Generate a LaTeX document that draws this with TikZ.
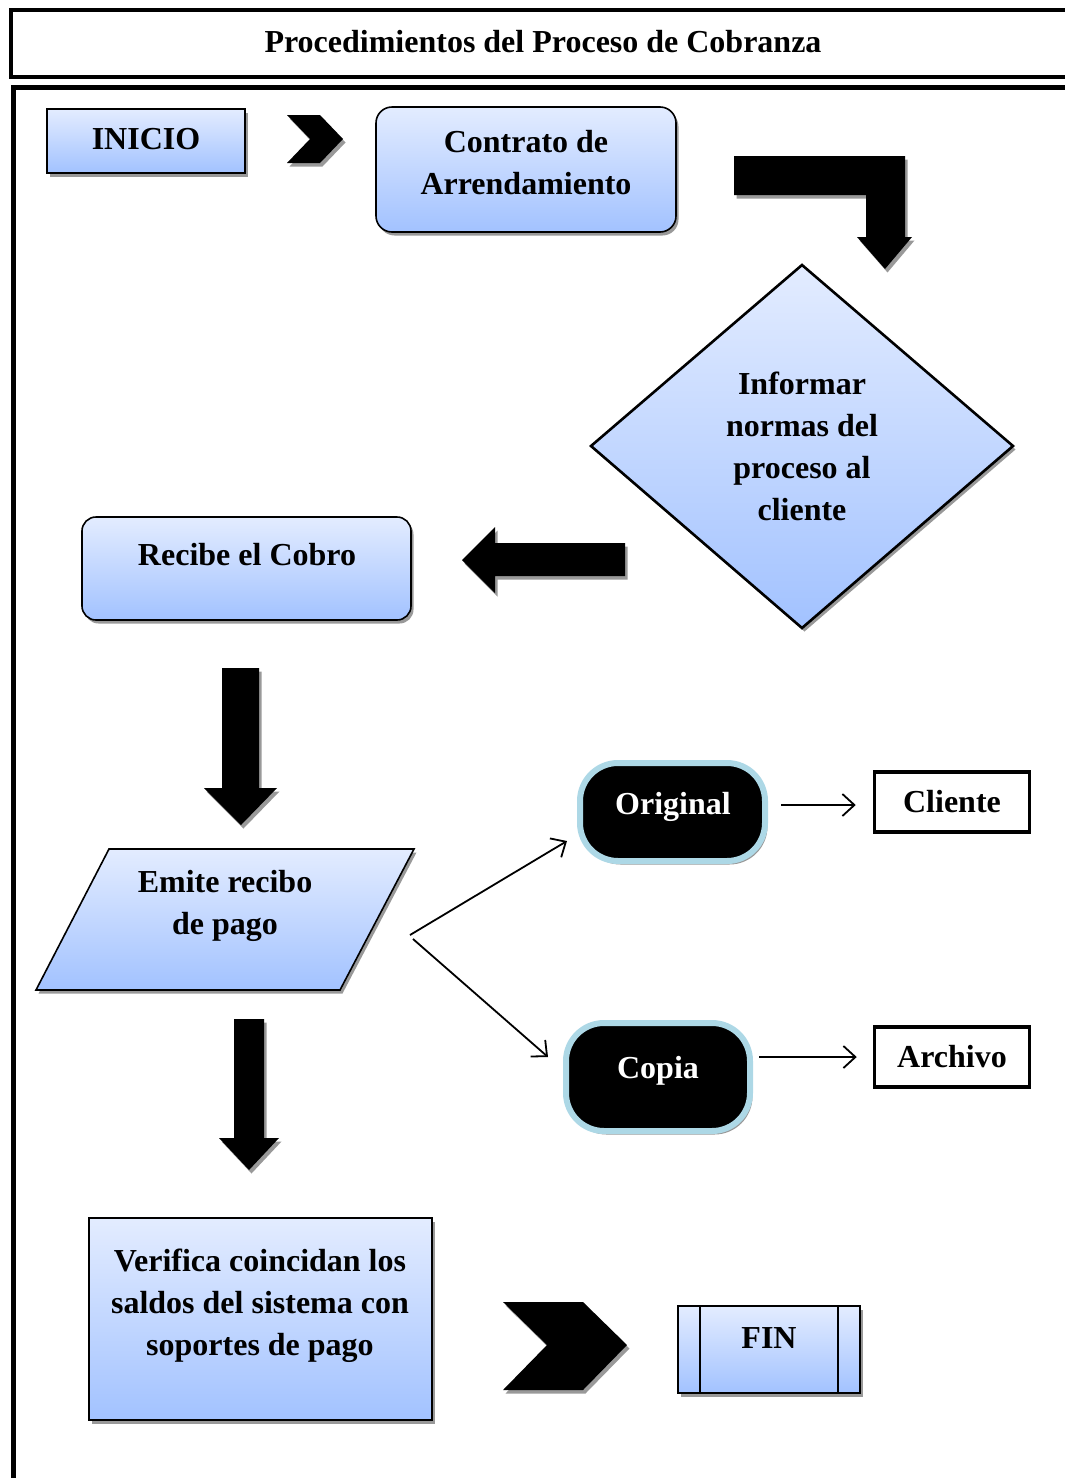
\documentclass[tikz,border=0pt]{standalone}
\usepackage{fontspec}
\setmainfont{Liberation Serif}
\usetikzlibrary{shadows,arrows.meta,shapes.geometric}
\definecolor{bluetop}{HTML}{E3ECFF}
\definecolor{bluebot}{HTML}{A2C2FF}
\definecolor{pillborder}{HTML}{ADD8E6}
\tikzset{
  shd/.style={drop shadow={shadow xshift=2.5pt,shadow yshift=-3.5pt,fill=black!40,opacity=1}},
  bluefill/.style={top color=bluetop,bottom color=bluebot,draw=black,line width=1.6pt,shd},
  txt/.style={font=\fontsize{32}{42}\selectfont\bfseries,align=center},
  blockarrow/.style={fill=black,shd},
  pill/.style={fill=black,draw=pillborder,line width=6pt,rounded corners=38pt,shd,
    rectangle,inner sep=0pt,txt,text=white},
  plainbox/.style={draw=black,line width=3.5pt,fill=white,rectangle,inner sep=0pt,
    minimum width=155pt,minimum height=60pt,txt},
  conn/.style={line width=1.8pt,-{Straight Barb[length=12pt,width=22pt,line width=1.8pt]}},
}
\begin{document}
\begin{tikzpicture}[x=1pt,y=-1pt]
\useasboundingbox (0,0) rectangle (1065,1478);
% header
\draw[line width=4.5pt] (11,10) rectangle (1080,77);
\node[font=\fontsize{32}{36}\selectfont\bfseries] (title) at (543,42) {Procedimientos del Proceso de Cobranza};
% outer frame
\draw[line width=5pt] (13,1490) -- (13,87) -- (1080,87);

% INICIO
\draw[bluefill] (47,109) rectangle (245,173);
\node[txt] (inicio) at (146,139) {INICIO};
% chevron 1
\fill[blockarrow] (287,115) -- (320,115) -- (343,139) -- (320,163) -- (287,163) -- (310,139) -- cycle;
% contrato
\draw[bluefill,rounded corners=16pt] (376,107) rectangle (676,232);
\node[txt] (contrato) at (526,163) {Contrato de\\Arrendamiento};
% bent arrow
\fill[blockarrow] (734,156) -- (905,156) -- (905,237) -- (912,237) -- (885,269) -- (857,237) -- (866,237) -- (866,195) -- (734,195) -- cycle;
% diamond
\draw[bluefill,line width=2.6pt] (802,265) -- (1013,446) -- (802,628) -- (591,446) -- cycle;
\node[txt] (informar) at (802,446) {Informar\\normas del\\proceso al\\cliente};
% left arrow
\fill[blockarrow] (625,543) -- (625,576) -- (495,576) -- (495,593) -- (462,560) -- (495,527) -- (495,543) -- cycle;
% recibe
\draw[bluefill,rounded corners=14pt] (82,517) rectangle (411,620);
\node[txt] (recibe) at (247,555) {Recibe el Cobro};
% down arrow 1
\fill[blockarrow] (222,668) -- (259,668) -- (259,788) -- (277,788) -- (241,825) -- (204,788) -- (222,788) -- cycle;
% parallelogram
\draw[bluefill] (109,849) -- (414,849) -- (340,990) -- (36,990) -- cycle;
\node[txt] (emite) at (225,906) {Emite recibo\\de pago};
% Original / Cliente
\node[pill,minimum width=185pt,minimum height=98pt] (original) at (672.5,812) {};
\node[txt,text=white] at (673,807) {Original};
\node[plainbox] (cliente) at (952,802) {Cliente};
% Copia / Archivo
\node[pill,minimum width=184pt,minimum height=108pt] (copia) at (658,1077) {};
\node[txt,text=white] at (658,1071) {Copia};
\node[plainbox] (archivo) at (952,1057) {Archivo};
% split connectors
\coordinate (split1) at (410,935);
\coordinate (split2) at (413,939);
\draw[conn] (split1) -- ([xshift=-10pt,yshift=23pt]original.south west);
\draw[conn] (split2) -- ([xshift=-15pt,yshift=20pt]copia.west);
\draw[conn] ([xshift=13pt,yshift=7pt]original.east) -- ([xshift=-17pt,yshift=-3pt]cliente.west);
\draw[conn] ([xshift=6pt,yshift=20pt]copia.east) -- ([xshift=-16pt]archivo.west);
% down arrow 2
\fill[blockarrow] (234,1019) -- (264,1019) -- (264,1138) -- (279,1138) -- (249,1170) -- (219,1138) -- (234,1138) -- cycle;
% verifica
\draw[bluefill] (89,1218) rectangle (432,1420);
\node[txt] (verifica) at (260,1306) {Verifica coincidan los\\saldos del sistema con\\soportes de pago};
% big chevron
\fill[blockarrow] (503,1302) -- (583,1302) -- (627,1345) -- (583,1390) -- (503,1390) -- (547,1345) -- cycle;
% FIN
\draw[bluefill] (678,1306) rectangle (860,1393);
\draw[line width=1.6pt] (700,1306) -- (700,1393) (838,1306) -- (838,1393);
\node[txt] (fin) at (769,1338) {FIN};
\end{tikzpicture}
\end{document}
